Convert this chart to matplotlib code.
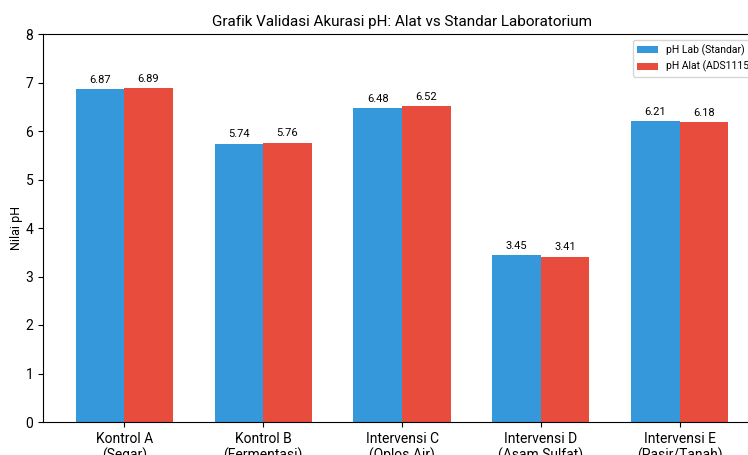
import matplotlib
matplotlib.use("Agg")
import matplotlib.pyplot as plt
import numpy as np

plt.rcParams['font.family'] = ['Roboto', 'DejaVu Sans']

categories = ["Kontrol A\n(Segar)", "Kontrol B\n(Fermentasi)", "Intervensi C\n(Oplos Air)",
              "Intervensi D\n(Asam Sulfat)", "Intervensi E\n(Pasir/Tanah)"]
ph_lab = [6.87, 5.74, 6.48, 3.45, 6.21]
ph_alat = [6.89, 5.76, 6.52, 3.41, 6.18]
yticks = [0, 1, 2, 3, 4, 5, 6, 7, 8]

fig = plt.figure(figsize=(7.48, 4.55), dpi=100)
ax = fig.add_axes([43/748, 1-422/455, (761-43)/748, (422-34)/455])

x = np.arange(len(categories))
w = 0.35
b1 = ax.bar(x - w/2, ph_lab, w, color='#3498db', label='pH Lab (Standar)')
b2 = ax.bar(x + w/2, ph_alat, w, color='#e74c3c', label='pH Alat (ADS1115)')

for bars, vals in ((b1, ph_lab), (b2, ph_alat)):
    for r, v in zip(bars, vals):
        ax.annotate(f"{v:.2f}", (r.get_x() + r.get_width()/2, v), xytext=(0, 3),
                    textcoords='offset points', ha='center', va='bottom', fontsize=8)

ax.set_xticks(x)
ax.set_xticklabels(categories, fontsize=10)
ax.set_yticks(yticks)
ax.tick_params(axis='y', labelsize=10)
ax.set_ylim(0, 8)
ax.set_ylabel('Nilai pH', fontsize=9)
ax.yaxis.set_label_coords(-0.028, 0.5)
ax.set_title('Grafik Validasi Akurasi pH: Alat vs Standar Laboratorium', fontsize=11)
ax.legend(loc='upper left', bbox_to_anchor=((633 - 43) / 718, (422 - 40) / 388),
          borderaxespad=0, fontsize=7.5)

fig.savefig('out.png', dpi=100)
